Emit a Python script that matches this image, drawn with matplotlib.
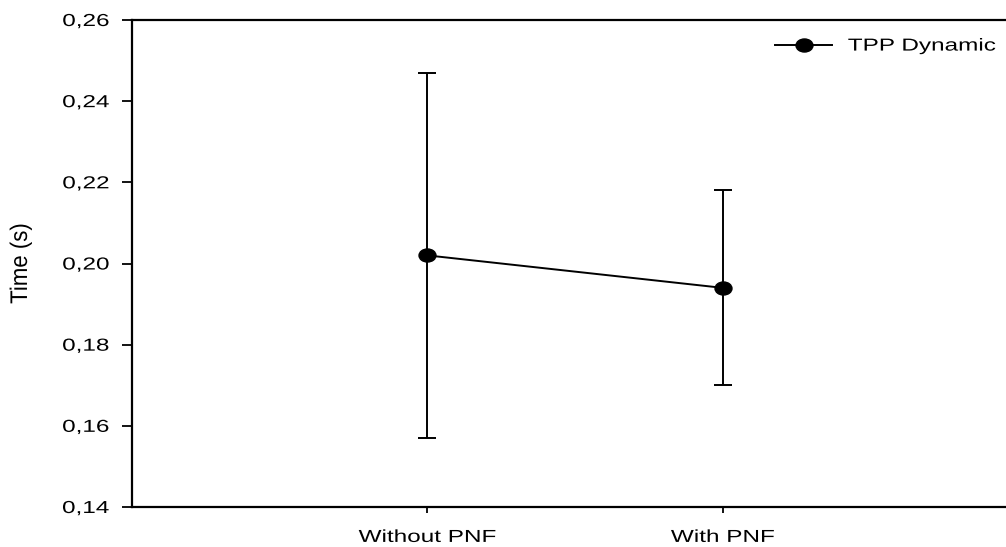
import matplotlib
matplotlib.use("Agg")
import matplotlib.pyplot as plt
from matplotlib.ticker import FuncFormatter
from matplotlib.patheffects import AbstractPathEffect
from matplotlib.transforms import Affine2D
from matplotlib.path import Path

categories = ["Without PNF", "With PNF"]
means = [0.202, 0.194]
upper = [0.247, 0.218]
lower = [0.157, 0.170]
yticks = [0.14, 0.16, 0.18, 0.20, 0.22, 0.24, 0.26]
series_name = "TPP Dynamic"

plt.rcParams['font.family'] = ['Liberation Sans', 'DejaVu Sans']


class Stretch(AbstractPathEffect):
    """Stretch text glyphs in their local frame about an anchor fraction."""
    def __init__(self, sx, anchor=0.0, sy=1.0):
        super().__init__()
        self.sx = sx
        self.sy = sy
        self.anchor = anchor

    def draw_path(self, renderer, gc, tpath, affine, rgbFace=None):
        ext = tpath.get_extents()
        x0 = ext.x0 + self.anchor * (ext.x1 - ext.x0)
        y0 = 0.5 * (ext.y0 + ext.y1)
        t = (Affine2D().translate(-x0, -y0).scale(self.sx, self.sy)
             .translate(x0, y0) + affine)
        renderer.draw_path(gc, tpath, t, rgbFace)


W, H = 1006, 547
fig = plt.figure(figsize=(W / 100, H / 100), dpi=100)
ax = fig.add_axes([132 / W, 40 / H, (1018 - 132) / W, (507 - 20) / H])

ellipse = Path(Path.unit_circle().vertices * [1.3, 1.0], Path.unit_circle().codes)

x = [1, 2]
yerr = [[m - l for m, l in zip(means, lower)], [u - m for m, u in zip(means, upper)]]
ax.errorbar(x, means, yerr=yerr, fmt='none', ecolor='black', elinewidth=1.4,
            capsize=6.8, capthick=1.4)
ax.plot(x, means, color='black', lw=1.4, marker=ellipse, markersize=12.2,
        label=series_name)

ax.set_xlim(0, 3)
ax.set_ylim(0.14, 0.26)
ax.set_yticks(yticks)
ax.yaxis.set_major_formatter(FuncFormatter(lambda v, p: f"{v:.2f}".replace('.', ',')))
ax.set_xticks(x)
ax.set_xticklabels(categories)

for s in ax.spines.values():
    s.set_linewidth(1.6)
ax.spines['right'].set_visible(False)

ax.tick_params(axis='y', direction='out', length=7.5, width=1.3, pad=9, labelsize=12.5)
ax.tick_params(axis='x', direction='out', length=4.5, width=1.3, pad=12, labelsize=12.5)

ax.set_ylabel("Time (s)", fontsize=16)
ax.yaxis.label.set_va('center')
ax.yaxis.set_label_coords((21 - 132) / (1018 - 132), 0.5)

leg = fig.legend(loc='center left', bbox_to_anchor=(775 / W, 1 - 46 / H), frameon=False,
                 fontsize=12.5, handlelength=3.3, handletextpad=0.9, borderpad=0,
                 borderaxespad=0)

fig.canvas.draw()
for lbl in ax.get_yticklabels():
    lbl.set_path_effects([Stretch(1.4, 1.0)])
for lbl in ax.get_xticklabels():
    lbl.set_path_effects([Stretch(1.4, 0.5)])
for t in leg.get_texts():
    t.set_path_effects([Stretch(1.4, 0.0)])
ax.yaxis.label.set_path_effects([Stretch(1.0, 0.5, sy=1.08)])

fig.savefig("out.png", dpi=100)
